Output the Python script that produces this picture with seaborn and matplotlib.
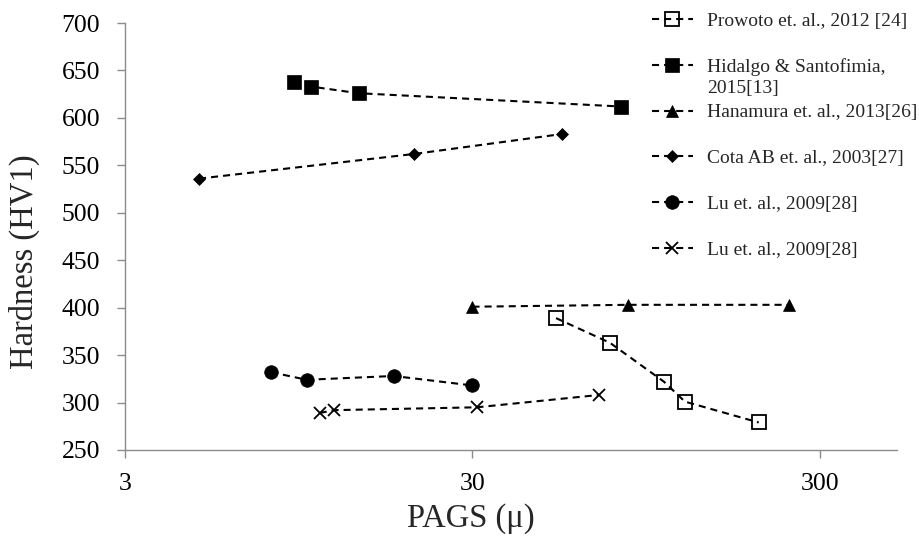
import matplotlib
matplotlib.use("Agg")
import matplotlib.pyplot as plt
from matplotlib.ticker import FixedLocator, FixedFormatter, NullLocator
import seaborn as sns

# Hardness against prior austenite grain size (PAGS), one series per source
prowoto_label = "Prowoto et. al., 2012 [24]"
prowoto_pags = [52.2, 74.6, 106.7, 122.6, 200.0]
prowoto_hv = [389, 363, 322, 301, 279]

hidalgo_label = "Hidalgo & Santofimia,"
hidalgo_label_2 = "2015[13]"
hidalgo_pags = [9.2, 10.3, 14.1, 80.2]
hidalgo_hv = [638, 633, 626, 612]

hanamura_label = "Hanamura et. al., 2013[26]"
hanamura_pags = [30.0, 84.0, 244.0]
hanamura_hv = [401, 403, 403]

cota_label = "Cota AB et. al., 2003[27]"
cota_pags = [4.9, 20.4, 54.3]
cota_hv = [536, 562, 583]

lu_label = "Lu et. al., 2009[28]"
lu_a_pags = [7.9, 10.0, 17.8, 30.0]
lu_a_hv = [332, 324, 328, 318]
lu_b_pags = [10.9, 12.0, 30.9, 69.4]
lu_b_hv = [289, 292, 295, 308]

x_ticks = [3, 30, 300]
x_tick_labels = ["3", "30", "300"]
y_ticks = [250, 300, 350, 400, 450, 500, 550, 600, 650, 700]

sns.set_style("ticks")
plt.rcParams["font.family"] = ["Liberation Serif", "DejaVu Serif"]

fig, ax = plt.subplots(figsize=(9.2, 5.4), dpi=100)
fig.subplots_adjust(left=125 / 920, right=897 / 920, bottom=90 / 540, top=517 / 540)

line_kw = dict(color="black", lw=1.5, linestyle=(0, (3.4, 2.4)), sort=False, errorbar=None)
series = [
    (prowoto_pags, prowoto_hv, prowoto_label,
     dict(marker="s", markersize=9.5, markerfacecolor="none",
          markeredgecolor="black", markeredgewidth=1.3)),
    (hidalgo_pags, hidalgo_hv, hidalgo_label,
     dict(marker="s", markersize=9.5, markerfacecolor="black",
          markeredgecolor="black", markeredgewidth=0.5)),
    (hanamura_pags, hanamura_hv, hanamura_label,
     dict(marker="^", markersize=8.5, markerfacecolor="black",
          markeredgecolor="black", markeredgewidth=0.5)),
    (cota_pags, cota_hv, cota_label,
     dict(marker="D", markersize=6, markerfacecolor="black",
          markeredgecolor="black", markeredgewidth=0.5)),
    (lu_a_pags, lu_a_hv, lu_label,
     dict(marker="o", markersize=9.8, markerfacecolor="black",
          markeredgecolor="black", markeredgewidth=0.5)),
    (lu_b_pags, lu_b_hv, lu_label,
     dict(marker="x", markersize=9, markerfacecolor="black",
          markeredgecolor="black", markeredgewidth=1.3)),
]
for xs, ys, lab, mk in series:
    sns.lineplot(x=xs, y=ys, ax=ax, label=lab, **line_kw, **mk)

ax.set_xscale("log")
ax.set_xlim(3, 500)
ax.xaxis.set_major_locator(FixedLocator(x_ticks))
ax.xaxis.set_major_formatter(FixedFormatter(x_tick_labels))
ax.xaxis.set_minor_locator(NullLocator())
ax.set_ylim(250, 700)
ax.set_yticks(y_ticks)

spine_color = "#8c8c8c"
for side in ("top", "right"):
    ax.spines[side].set_visible(False)
for side in ("left", "bottom"):
    ax.spines[side].set_color(spine_color)
    ax.spines[side].set_linewidth(1.0)
ax.tick_params(axis="both", direction="out", length=5.8, width=1.0,
               color=spine_color, labelsize=18.5, labelcolor="black")
ax.tick_params(axis="x", pad=11)
ax.tick_params(axis="y", pad=12)

ax.set_xlabel("PAGS (μ)", fontsize=23.5)
ax.set_ylabel("Hardness (HV1)", fontsize=23.5)
ax.xaxis.set_label_coords(0.448, -0.125)
ax.yaxis.set_label_coords(-0.11, 0.44)

handles, labels = ax.get_legend_handles_labels()
leg = ax.legend(handles, labels, loc="upper left",
                bbox_to_anchor=(652 / 920, 1 - 12 / 540),
                bbox_transform=fig.transFigure, frameon=False, fontsize=14,
                handlelength=2.1, handletextpad=0.75, labelspacing=1.45,
                borderpad=0, borderaxespad=0)

fig.canvas.draw()
hid_text = leg.get_texts()[1]
ax.annotate(hidalgo_label_2, xy=(0, 0), xycoords=hid_text, xytext=(0, -3),
            textcoords="offset points", ha="left", va="top", fontsize=14,
            annotation_clip=False, zorder=6)

fig.savefig("out.png", dpi=100)
